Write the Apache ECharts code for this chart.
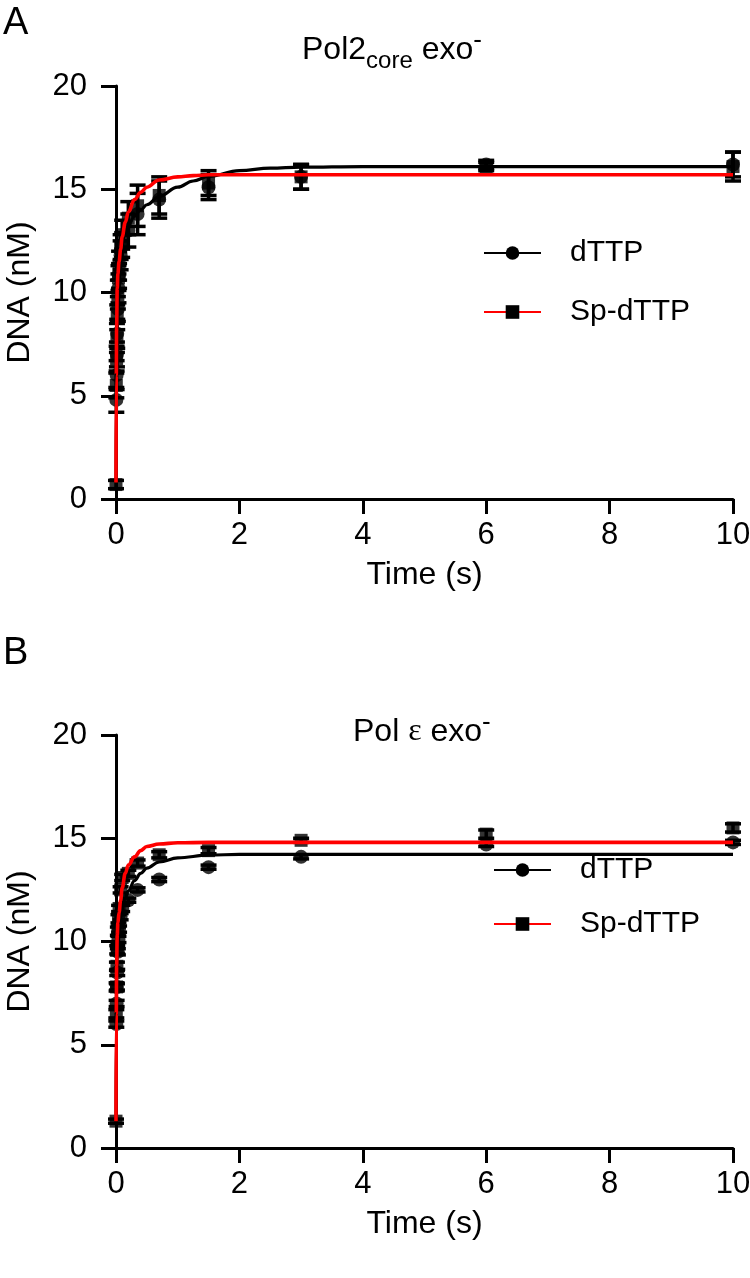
<!DOCTYPE html>
<html>
<head>
<meta charset="utf-8">
<script src="https://cdn.jsdelivr.net/npm/echarts@6/dist/echarts.min.js"></script>
<style>html,body{margin:0;padding:0;background:#fff}#c{width:750px;height:1278px}</style>
</head>
<body>
<div id="c"></div>
<script>
// ---------- data ----------
const xTicks = [0, 2, 4, 6, 8, 10];
const yTicks = [0, 5, 10, 15, 20];

// Panel A : Pol2core exo-
const timeA_dTTP = [0.005, 0.01, 0.015, 0.02, 0.03, 0.04, 0.05, 0.075, 0.1, 0.2, 0.35, 0.7, 1.5, 3, 6, 10];
const meanA_dTTP = [4.8, 6.0, 7.0, 8.0, 9.2, 10.2, 10.8, 11.8, 12.3, 13.0, 13.8, 14.5, 15.1, 15.6, 16.2, 16.2];
const errA_dTTP  = [0.6, 0.7, 0.6, 0.7, 0.6, 0.7, 0.6, 0.7, 0.6, 0.8, 1.0, 0.9, 0.6, 0.6, 0.2, 0.6];

const timeA_Sp = [0, 0.005, 0.01, 0.015, 0.02, 0.03, 0.04, 0.05, 0.075, 0.1, 0.2, 0.35, 0.7, 1.5, 3, 6, 10];
const meanA_Sp = [0.7, 5.5, 6.8, 7.8, 8.8, 9.9, 10.7, 11.3, 12.2, 12.8, 13.6, 14.2, 14.7, 15.3, 15.6, 16.1, 16.1];
const errA_Sp  = [0.2, 0.6, 0.6, 0.7, 0.6, 0.7, 0.6, 0.7, 0.6, 0.7, 0.8, 1.0, 0.9, 0.6, 0.6, 0.2, 0.7];

const fitTimeA   = [0, 0.005, 0.01, 0.02, 0.03, 0.05, 0.075, 0.1, 0.15, 0.2, 0.3, 0.4, 0.5, 0.7, 1.0, 1.25, 1.5, 2, 2.5, 3, 4, 6, 10];
const fitA_dTTP  = [0.8, 5.5, 7.8, 9.8, 10.6, 11.3, 11.9, 12.4, 12.9, 13.25, 13.7, 14.0, 14.25, 14.65, 15.1, 15.4, 15.62, 15.9, 16.02, 16.07, 16.1, 16.1, 16.1];
const fitA_Sp    = [0.8, 6.0, 8.3, 10.2, 10.9, 11.5, 12.1, 12.7, 13.4, 13.9, 14.5, 14.85, 15.1, 15.45, 15.6, 15.66, 15.7, 15.7, 15.7, 15.7, 15.7, 15.7, 15.7];

// Panel B : Pol ε exo-
const timeB_dTTP = [0.005, 0.01, 0.015, 0.02, 0.03, 0.04, 0.05, 0.075, 0.1, 0.2, 0.35, 0.7, 1.5, 3, 6, 10];
const meanB_dTTP = [6.0, 7.0, 7.8, 8.5, 9.5, 10.1, 10.6, 11.2, 11.6, 12.0, 12.5, 13.0, 13.6, 14.1, 14.7, 14.8];
const errB_dTTP  = [0.15, 0.15, 0.15, 0.15, 0.15, 0.15, 0.15, 0.15, 0.15, 0.1, 0.1, 0.1, 0.1, 0.1, 0.1, 0.1];

const timeB_Sp = [0, 0.005, 0.01, 0.015, 0.02, 0.03, 0.04, 0.05, 0.075, 0.1, 0.2, 0.35, 0.7, 1.5, 3, 6, 10];
const meanB_Sp = [1.3, 6.5, 7.8, 8.8, 9.6, 10.5, 11.1, 11.6, 12.5, 13.1, 13.3, 13.8, 14.2, 14.4, 14.9, 15.2, 15.5];
const errB_Sp  = [0.1, 0.2, 0.2, 0.2, 0.2, 0.2, 0.2, 0.15, 0.15, 0.15, 0.15, 0.15, 0.15, 0.15, 0.1, 0.2, 0.2];

const fitTimeB  = [0, 0.005, 0.01, 0.02, 0.03, 0.05, 0.075, 0.1, 0.15, 0.2, 0.3, 0.4, 0.5, 0.7, 1.0, 1.5, 2, 3, 4, 6, 10];
const fitB_dTTP = [1.3, 6.0, 8.2, 9.8, 10.4, 10.9, 11.3, 11.65, 12.1, 12.45, 12.95, 13.3, 13.55, 13.85, 14.05, 14.18, 14.22, 14.22, 14.22, 14.22, 14.22];
const fitB_Sp   = [1.3, 6.5, 8.8, 10.3, 10.9, 11.4, 12.0, 12.6, 13.3, 13.7, 14.1, 14.4, 14.6, 14.72, 14.78, 14.8, 14.8, 14.8, 14.8, 14.8, 14.8];

const seriesNames = ['dTTP', 'Sp-dTTP'];

// ---------- helpers ----------
const FONT = '"Liberation Sans", Arial, Helvetica, sans-serif';
const zip2 = (a, b) => a.map((v, i) => [v, b[i]]);
const zip3 = (a, b, c) => a.map((v, i) => [v, b[i], c[i]]);

function errRender(params, api) {
  const x = api.value(0), m = api.value(1), e = api.value(2);
  const lo = api.coord([x, m - e]), hi = api.coord([x, m + e]);
  const w = 8;
  const style = { stroke: '#000', lineWidth: 3.5 };
  return {
    type: 'group',
    children: [
      { type: 'line', shape: { x1: lo[0], y1: lo[1], x2: hi[0], y2: hi[1] }, style },
      { type: 'line', shape: { x1: lo[0] - w, y1: lo[1], x2: lo[0] + w, y2: lo[1] }, style },
      { type: 'line', shape: { x1: hi[0] - w, y1: hi[1], x2: hi[0] + w, y2: hi[1] }, style }
    ]
  };
}

function axisPair(idx) {
  const common = {
    gridIndex: idx,
    type: 'value',
    splitLine: { show: false },
    axisLine: { show: true, lineStyle: { color: '#000', width: 3 } },
    axisTick: { show: true, length: 15, lineStyle: { color: '#000', width: 3 } },
    nameTextStyle: { color: '#000', fontSize: 32, fontFamily: FONT },
    nameLocation: 'middle'
  };
  return {
    x: Object.assign({}, common, {
      min: xTicks[0], max: xTicks[xTicks.length - 1], interval: xTicks[1] - xTicks[0],
      name: 'Time (s)', nameGap: 60,
      axisLabel: { color: '#000', fontSize: 31, fontFamily: FONT, margin: 21 }
    }),
    y: Object.assign({}, common, {
      min: yTicks[0], max: yTicks[yTicks.length - 1], interval: yTicks[1] - yTicks[0],
      name: 'DNA (nM)', nameGap: 80,
      axisLabel: { color: '#000', fontSize: 31, fontFamily: FONT, margin: 29 }
    })
  };
}

const axA = axisPair(0), axB = axisPair(1);

function panelSeries(idx, tD, mD, eD, tS, mS, eS, fitT, fitD, fitS) {
  return [
    { name: 'errD' + idx, type: 'custom', xAxisIndex: idx, yAxisIndex: idx, renderItem: errRender,
      encode: { x: 0, y: [1, 2] }, data: zip3(tD, mD, eD), z: 2, silent: true },
    { name: 'errS' + idx, type: 'custom', xAxisIndex: idx, yAxisIndex: idx, renderItem: errRender,
      encode: { x: 0, y: [1, 2] }, data: zip3(tS, mS, eS), z: 2, silent: true },
    { name: 'ptD' + idx, type: 'scatter', xAxisIndex: idx, yAxisIndex: idx, symbol: 'circle', symbolSize: 14,
      itemStyle: { color: '#000' }, data: zip2(tD, mD), z: 3, silent: true },
    { name: 'ptS' + idx, type: 'scatter', xAxisIndex: idx, yAxisIndex: idx, symbol: 'rect', symbolSize: 13,
      itemStyle: { color: '#000' }, data: zip2(tS, mS), z: 3, silent: true },
    { name: seriesNames[0], type: 'line', xAxisIndex: idx, yAxisIndex: idx, symbol: 'circle', showSymbol: false,
      smooth: 0.4, smoothMonotone: 'x', lineStyle: { color: '#000', width: 3.2 }, itemStyle: { color: '#000' },
      data: zip2(fitT, fitD), z: 4, silent: true },
    { name: seriesNames[1], type: 'line', xAxisIndex: idx, yAxisIndex: idx, symbol: 'rect', showSymbol: false,
      smooth: 0.4, smoothMonotone: 'x', lineStyle: { color: '#ff0000', width: 3.6 }, itemStyle: { color: '#000' },
      data: zip2(fitT, fitS), z: 5, silent: true }
  ];
}

const titleRich = {
  a: { fontSize: 32, fontFamily: FONT, fontWeight: 'normal', color: '#000' },
  e: { fontSize: 32, fontFamily: '"Liberation Serif", serif', fontWeight: 'normal', color: '#000' },
  b: { fontSize: 24, fontFamily: FONT, fontWeight: 'normal', color: '#000', padding: [22, 0, 0, 0] },
  c: { fontSize: 26, fontFamily: FONT, fontWeight: 'normal', color: '#000', padding: [0, 0, 18, 0] }
};

function legendAt(left, top, gap) {
  return {
    data: seriesNames, left: left, top: top, orient: 'vertical',
    itemWidth: 57, itemHeight: 17, itemGap: gap, selectedMode: false,
    textStyle: { color: '#000', fontSize: 30, fontFamily: FONT, padding: [0, 0, 0, 24] }
  };
}

const option = {
  animation: false,
  backgroundColor: '#fff',
  title: [
    { text: 'A', left: -2, top: 0, textStyle: { fontSize: 38, fontWeight: 'normal', color: '#000', fontFamily: FONT } },
    { text: 'B', left: -2, top: 630, textStyle: { fontSize: 38, fontWeight: 'normal', color: '#000', fontFamily: FONT } },
    { text: '{a|Pol2}{b|core}{a| exo}{c|-}', left: 297, top: 22, textStyle: { fontWeight: 'normal', rich: titleRich } },
    { text: '{a|Pol }{e|ε}{a| exo}{c|-}', left: 348, top: 705, textStyle: { fontWeight: 'normal', rich: titleRich } }
  ],
  legend: [legendAt(478, 233, 29), legendAt(488, 850, 24)],
  grid: [
    { left: 116, right: 17, top: 86, bottom: 779, outerBoundsMode: 'none', containLabel: false },
    { left: 116, right: 17, top: 735, bottom: 130, outerBoundsMode: 'none', containLabel: false }
  ],
  xAxis: [axA.x, axB.x],
  yAxis: [axA.y, axB.y],
  series: [].concat(
    panelSeries(0, timeA_dTTP, meanA_dTTP, errA_dTTP, timeA_Sp, meanA_Sp, errA_Sp, fitTimeA, fitA_dTTP, fitA_Sp),
    panelSeries(1, timeB_dTTP, meanB_dTTP, errB_dTTP, timeB_Sp, meanB_Sp, errB_Sp, fitTimeB, fitB_dTTP, fitB_Sp)
  )
};

const chart = echarts.init(document.getElementById('c'), null, { renderer: 'canvas' });
chart.setOption(option);
</script>
</body>
</html>
